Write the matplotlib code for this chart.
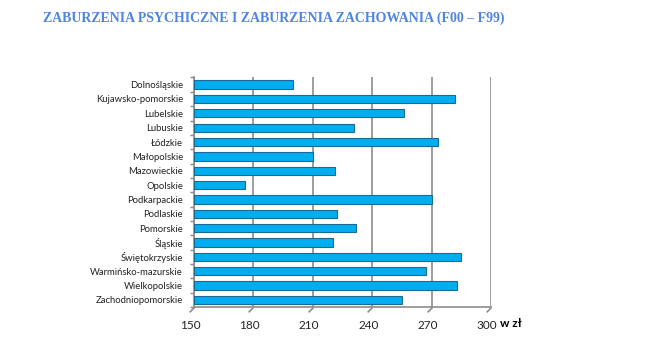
import matplotlib.pyplot as plt
from matplotlib.path import Path
from matplotlib.transforms import ScaledTranslation
import numpy as np

regions = ["Dolnośląskie", "Kujawsko-pomorskie", "Lubelskie", "Lubuskie", "Łódzkie",
           "Małopolskie", "Mazowieckie", "Opolskie", "Podkarpackie", "Podlaskie",
           "Pomorskie", "Śląskie", "Świętokrzyskie", "Warmińsko-mazurskie",
           "Wielkopolskie", "Zachodniopomorskie"]
values = [200, 282, 256, 231, 273, 210, 221, 176, 270, 222, 232, 220, 285, 267, 283, 255]
xticks = [150, 180, 210, 240, 270, 300]

plt.rcParams['font.family'] = ['Lato', 'DejaVu Sans']

fig = plt.figure(figsize=(6.45, 3.57), dpi=100)
ax = fig.add_axes([0.3008, 0.14, 0.4605, 0.643])

y = np.arange(len(regions))
ax.barh(y, np.array(values) - 150, left=150, height=0.58,
        color='#00AEEF', edgecolor='#1A6A96', linewidth=0.8, zorder=3)

ax.set_xlim(150, 300)
ax.set_ylim(len(regions) - 0.5, -0.5)
ax.set_yticks(y)
ax.set_yticklabels(regions, fontsize=6.8, color='#222222')
ax.set_yticks(np.arange(-0.5, len(regions), 1), minor=True)
ax.tick_params(axis='y', which='major', length=0, pad=8)
ax.tick_params(axis='y', which='minor', length=3, color='#888888', width=1)
ax.set_xticks(xticks)
ax.set_xticklabels([str(t) for t in xticks], fontsize=8.5, color='#222222')
ax.tick_params(axis='x', length=0, pad=9)
shift = ScaledTranslation(-4 / 100, 0, fig.dpi_scale_trans)
for lbl in ax.get_xticklabels():
    lbl.set_transform(lbl.get_transform() + shift)
ax.grid(axis='x', color='#8c8c8c', linewidth=1.2, zorder=0)

for s in ['top', 'right']:
    ax.spines[s].set_visible(False)
for s in ['left', 'bottom']:
    ax.spines[s].set_color('#8c8c8c')
    ax.spines[s].set_linewidth(1.2)

diag = Path([(0, 0), (-1, -1)], [Path.MOVETO, Path.LINETO])
ax.plot(xticks, [len(regions) - 0.5] * len(xticks), linestyle='none',
        marker=diag, markersize=7, markeredgecolor='#8c8c8c',
        markeredgewidth=1.2, clip_on=False, zorder=4)

ax.text(1.03, -0.072, "w zł", transform=ax.transAxes, fontsize=8.5,
        fontweight='bold', ha='left', va='center')

fig.text(0.067, 0.948, "ZABURZENIA PSYCHICZNE I ZABURZENIA ZACHOWANIA (F00 – F99)",
         family='Liberation Serif', fontweight='bold', fontsize=10,
         color='#4F86D9', ha='left', va='center')

fig.savefig("out.png", dpi=100)
